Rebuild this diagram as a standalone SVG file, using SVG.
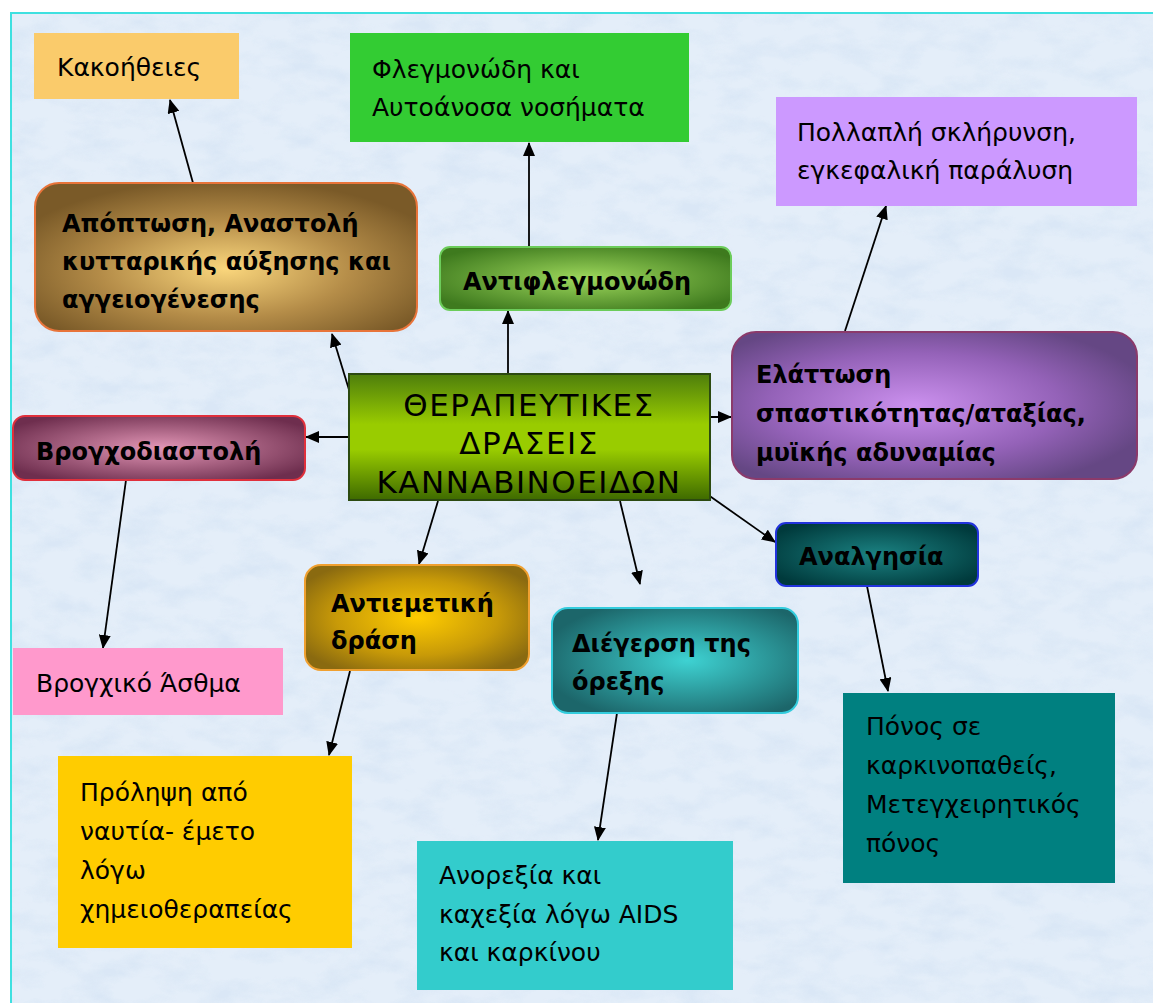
<svg xmlns="http://www.w3.org/2000/svg" width="1153" height="1003" viewBox="0 0 1153 1003">
<defs>
<style>
.t{font-family:"DejaVu Sans","Liberation Sans",sans-serif;font-size:25px;fill:#000;}
.b{font-family:"DejaVu Sans","Liberation Sans",sans-serif;font-size:24px;font-weight:bold;fill:#000;}
.c{font-family:"DejaVu Sans","Liberation Sans",sans-serif;font-size:31px;fill:#000;letter-spacing:1.5px;}
.conn line{stroke:#000;stroke-width:1.8;marker-end:url(#arr);}
</style>
<marker id="arr" viewBox="0 0 14 12" refX="13" refY="6" markerWidth="14" markerHeight="12" markerUnits="userSpaceOnUse" orient="auto">
<path d="M0,0 L14,6 L0,12 z" fill="#000"/>
</marker>
<filter id="tex" x="0" y="0" width="100%" height="100%">
<feTurbulence type="fractalNoise" baseFrequency="0.025 0.05" numOctaves="4" seed="7"/>
<feColorMatrix type="matrix" values="0 0 0 0 0.70  0 0 0 0 0.80  0 0 0 0 0.92  2.6 0 0 0 -1.05"/>
</filter>
<radialGradient id="gApop" cx="50%" cy="58%" r="60%"><stop offset="0" stop-color="#FAD67C"/><stop offset="0.55" stop-color="#B48C48"/><stop offset="1" stop-color="#7A5A28"/></radialGradient>
<radialGradient id="gAnti" cx="50%" cy="50%" r="60%"><stop offset="0" stop-color="#9ED85C"/><stop offset="1" stop-color="#3E7A1E"/></radialGradient>
<radialGradient id="gElat" cx="45%" cy="50%" r="60%"><stop offset="0" stop-color="#CB90EE"/><stop offset="0.6" stop-color="#9462B8"/><stop offset="1" stop-color="#654784"/></radialGradient>
<radialGradient id="gBron" cx="50%" cy="50%" r="60%"><stop offset="0" stop-color="#E296B6"/><stop offset="1" stop-color="#6E2E4E"/></radialGradient>
<radialGradient id="gEmet" cx="50%" cy="50%" r="60%"><stop offset="0" stop-color="#FFCC00"/><stop offset="0.6" stop-color="#C89A08"/><stop offset="1" stop-color="#8A6A10"/></radialGradient>
<radialGradient id="gDieg" cx="55%" cy="50%" r="60%"><stop offset="0" stop-color="#3ED2D2"/><stop offset="1" stop-color="#1C666A"/></radialGradient>
<radialGradient id="gAnal" cx="50%" cy="50%" r="60%"><stop offset="0" stop-color="#1B8282"/><stop offset="1" stop-color="#003A3C"/></radialGradient>
<linearGradient id="gCen" x1="0" y1="0" x2="0" y2="1"><stop offset="0" stop-color="#4E7E0C"/><stop offset="0.4" stop-color="#99CC00"/><stop offset="0.6" stop-color="#99CC00"/><stop offset="1" stop-color="#3E6A00"/></linearGradient>
</defs>

<rect x="0" y="0" width="1153" height="1003" fill="#FFFFFF"/>
<rect x="11" y="13" width="1142" height="990" fill="#E4EEF9"/>
<rect x="11" y="13" width="1142" height="990" filter="url(#tex)" opacity="0.9"/>
<path d="M11,1003 L11,13 L1153,13" fill="none" stroke="#3EE0E0" stroke-width="2"/>

<g class="conn" id="connectors">
<line x1="193" y1="183" x2="170" y2="100"/>
<line x1="350" y1="393" x2="332" y2="334"/>
<line x1="508" y1="374" x2="508" y2="311"/>
<line x1="529" y1="247" x2="529" y2="143"/>
<line x1="687" y1="417" x2="731" y2="417"/>
<line x1="845" y1="331" x2="886" y2="206"/>
<line x1="349" y1="437" x2="306" y2="437"/>
<line x1="126" y1="480" x2="103" y2="648"/>
<line x1="438" y1="501" x2="419" y2="564"/>
<line x1="350" y1="671" x2="329" y2="755"/>
<line x1="620" y1="501" x2="640" y2="584"/>
<line x1="687" y1="480" x2="775" y2="542"/>
<line x1="617" y1="713" x2="598" y2="840"/>
<line x1="867" y1="586" x2="888" y2="691"/>
</g>

<g id="kakoitheies"><rect x="34" y="33" width="205" height="66" fill="#FACB6B"/><text class="t" x="57" y="76">Κακοήθειες</text></g>

<g id="flegmonodi"><rect x="350" y="33" width="339" height="109" fill="#33CC33"/><text class="t" x="372" y="78">Φλεγμονώδη και</text><text class="t" x="372" y="116">Αυτοάνοσα νοσήματα</text></g>

<g id="pollapli"><rect x="776" y="97" width="361" height="109" fill="#CC99FF"/><text class="t" x="797" y="141">Πολλαπλή σκλήρυνση,</text><text class="t" x="797" y="179">εγκεφαλική παράλυση</text></g>

<g id="apoptosi"><rect x="35" y="183" width="382" height="148" rx="24" fill="url(#gApop)" stroke="#E8743A" stroke-width="2"/><text class="b" x="62" y="232">Απόπτωση, Αναστολή</text><text class="b" x="62" y="270">κυτταρικής αύξησης και</text><text class="b" x="62" y="308">αγγειογένεσης</text></g>

<g id="antiflegmonodi"><rect x="440" y="247" width="291" height="63" rx="10" fill="url(#gAnti)" stroke="#6CCC5A" stroke-width="2"/><text class="b" x="463" y="290">Αντιφλεγμονώδη</text></g>

<g id="elattosi"><rect x="732" y="332" width="405" height="147" rx="24" fill="url(#gElat)" stroke="#8B3A6B" stroke-width="2"/><text class="b" x="756" y="383">Ελάττωση</text><text class="b" x="756" y="422">σπαστικότητας/αταξίας,</text><text class="b" x="756" y="461">μυϊκής αδυναμίας</text></g>

<g id="kentro"><rect x="349" y="374" width="361" height="126" fill="url(#gCen)" stroke="#2C4A10" stroke-width="2"/><text class="c" x="529" y="416" text-anchor="middle">ΘΕΡΑΠΕΥΤΙΚΕΣ</text><text class="c" x="529" y="454" text-anchor="middle">ΔΡΑΣΕΙΣ</text><text class="c" x="529" y="493" text-anchor="middle">ΚΑΝΝΑΒΙΝΟΕΙΔΩΝ</text></g>

<g id="vrogchodiastoli"><rect x="13" y="416" width="292" height="64" rx="12" fill="url(#gBron)" stroke="#E0303C" stroke-width="2"/><text class="b" x="36" y="460">Βρογχοδιαστολή</text></g>

<g id="antiemetiki"><rect x="305" y="565" width="224" height="105" rx="16" fill="url(#gEmet)" stroke="#F0A030" stroke-width="2"/><text class="b" x="331" y="612">Αντιεμετική</text><text class="b" x="331" y="649">δράση</text></g>

<g id="diegersi"><rect x="552" y="608" width="246" height="105" rx="16" fill="url(#gDieg)" stroke="#33CCDD" stroke-width="2"/><text class="b" x="572" y="652">Διέγερση της</text><text class="b" x="572" y="690">όρεξης</text></g>

<g id="analgisia"><rect x="776" y="523" width="202" height="63" rx="10" fill="url(#gAnal)" stroke="#2233DD" stroke-width="2"/><text class="b" x="799" y="565">Αναλγησία</text></g>

<g id="asthma"><rect x="13" y="648" width="270" height="67" fill="#FF99CC"/><text class="t" x="36" y="692">Βρογχικό Άσθμα</text></g>

<g id="prolipsi"><rect x="58" y="756" width="294" height="192" fill="#FFCC00"/><text class="t" x="80" y="801">Πρόληψη από</text><text class="t" x="80" y="840">ναυτία- έμετο</text><text class="t" x="80" y="879">λόγω</text><text class="t" x="80" y="918">χημειοθεραπείας</text></g>

<g id="anorexia"><rect x="417" y="841" width="316" height="149" fill="#33CCCC"/><text class="t" x="439" y="884">Ανορεξία και</text><text class="t" x="439" y="923">καχεξία λόγω AIDS</text><text class="t" x="439" y="961">και καρκίνου</text></g>

<g id="ponos"><rect x="843" y="693" width="272" height="190" fill="#008080"/><text class="t" x="866" y="735">Πόνος σε</text><text class="t" x="866" y="774">καρκινοπαθείς,</text><text class="t" x="866" y="813">Μετεγχειρητικός</text><text class="t" x="866" y="852">πόνος</text></g>
</svg>
